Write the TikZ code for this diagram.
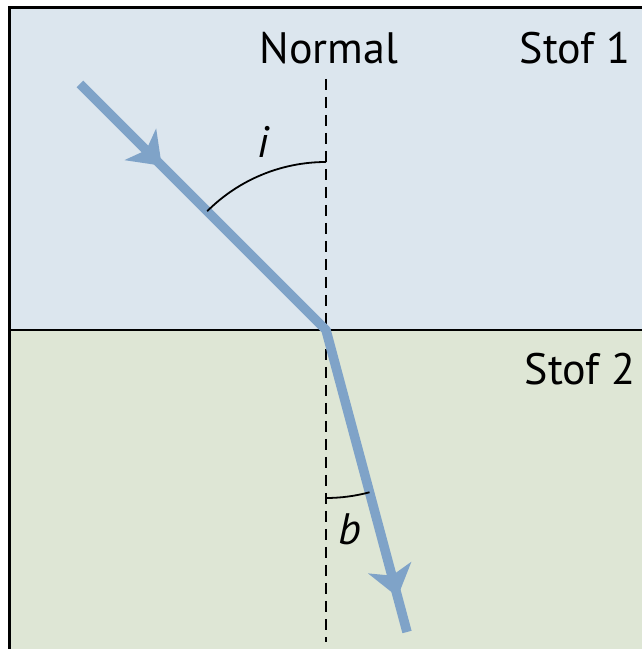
\documentclass[tikz,border=0pt]{standalone}
\usepackage{fontspec}
\setmainfont{PT Sans}
\usetikzlibrary{arrows.meta,angles,decorations.markings}
\definecolor{upperfill}{HTML}{DCE6EE}
\definecolor{lowerfill}{HTML}{DEE6D5}
\definecolor{raycol}{HTML}{7FA3C8}

\begin{document}
\begin{tikzpicture}[
      x=1pt,y=1pt,
      lbl/.style={font=\fontsize{44}{50}\selectfont,inner sep=0pt,anchor=base},
      ray/.style={raycol,line width=9.5pt,line join=round},
      normalline/.style={black,line width=2.4pt,dash pattern=on 11pt off 7pt},
      arcline/.style={draw,black,line width=1.8pt,angle radius=168pt},
      tips/.style={postaction={decorate},decoration={markings,
        mark=at position 0.175 with {\arrow{Stealth[length=30pt,width=44pt,inset=8pt]}},
        mark=at position 0.945 with {\arrow{Stealth[length=30pt,width=44pt,inset=8pt]}}}}
    ]
    \useasboundingbox (0,0) rectangle (641,649);
    % the two media
    \fill[upperfill] (9,319) rectangle (660,641);
    \fill[lowerfill] (9,-20) rectangle (660,319);
    \draw[black,line width=3pt] (9,-20) -- (9,641) -- (660,641);
    \draw[black,line width=2pt] (9,319) -- (660,319);
    % points of the ray
    \coordinate (O) at (326,319);
    \coordinate (src) at (80,565);
    \coordinate (tip) at (407,17);
    \coordinate (ntop) at (326,570);
    \coordinate (nbot) at (326,7);
    \draw[normalline] (ntop) -- (nbot);
    \draw[ray,tips] (src) -- (O) -- (tip);
    \pic[arcline] {angle=ntop--O--src};
    \pic[arcline] {angle=nbot--O--tip};
    % labels
    \node[lbl] (normal) at (329,585) {Normal};
    \node[lbl] (stof1) at (575,585) {Stof 1};
    \node[lbl] (stof2) at (580,264) {Stof 2};
    \node[lbl] (lblI) at (263,491) {\itshape i};
    \node[lbl] (lblB) at (350,104) {\itshape b};
  \end{tikzpicture}
\end{document}
